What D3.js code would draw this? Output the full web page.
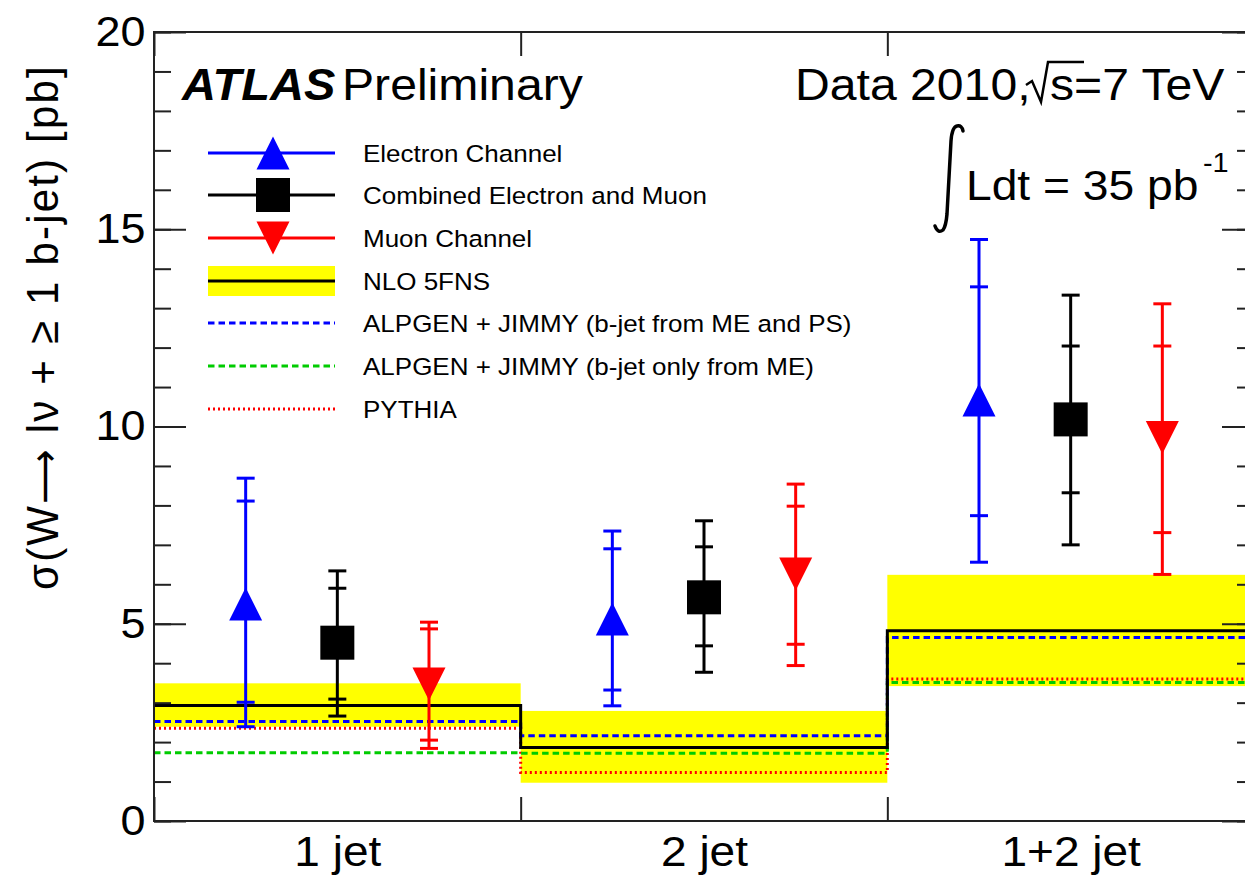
<!DOCTYPE html>
<html><head><meta charset="utf-8">
<script src="https://cdn.jsdelivr.net/npm/d3@7"></script>
<style>
body{margin:0;background:#fff;}
svg{display:block;font-family:"Liberation Sans",Arial,Helvetica,sans-serif;}
</style>
</head><body>
<svg id="c" width="1245" height="882"></svg>
<script>
// ---------------- data ----------------
const bins = ["1 jet", "2 jet", "1+2 jet"];
const yMajorTicks = [0, 5, 10, 15, 20];
const yMinorTicks = d3.range(0, 21, 1);
const binEdges = [0, 1, 2, 3];

// Electron channel
const eleVal    = [5.50, 5.12, 10.67];
const eleStatLo = [3.01, 3.32, 7.74];
const eleStatHi = [8.11, 6.90, 13.54];
const eleTotLo  = [2.39, 2.92, 6.56];
const eleTotHi  = [8.69, 7.35, 14.74];
// Combined electron and muon
const combVal    = [4.52, 5.67, 10.18];
const combStatLo = [3.09, 4.44, 8.32];
const combStatHi = [5.90, 6.95, 12.04];
const combTotLo  = [2.66, 3.77, 7.00];
const combTotHi  = [6.34, 7.61, 13.33];
// Muon channel
const muVal    = [3.47, 6.26, 9.72];
const muStatLo = [2.05, 4.48, 7.31];
const muStatHi = [4.87, 7.98, 12.04];
const muTotLo  = [1.84, 3.94, 6.25];
const muTotHi  = [5.04, 8.54, 13.11];
// Theory
const nloVal = [2.93, 1.86, 4.82];
const nloLo  = [2.39, 0.97, 3.42];
const nloHi  = [3.49, 2.79, 6.24];
const alpgenMEPS = [2.52, 2.16, 4.65];
const alpgenME   = [1.73, 1.72, 3.51];
const pythiaVal  = [2.35, 1.23, 3.60];

const legendLabels = ["Electron Channel", "Combined Electron and Muon", "Muon Channel", "NLO 5FNS",
  "ALPGEN + JIMMY (b-jet from ME and PS)", "ALPGEN + JIMMY (b-jet only from ME)", "PYTHIA"];

// ---------------- layout ----------------
const SX = 1.07; // horizontal stretch of text
const svg = d3.select("#c");
const x = d3.scaleLinear().domain([0, 3]).range([154, 1254]);
const y = d3.scaleLinear().domain([0, 20]).range([821, 32]);
const BLUE = "#0000ff", RED = "#ff0000", GREEN = "#00cc00", YELLOW = "#ffff00";

function txt(parent, px, py, s, size, opts = {}) {
  const g = parent.append("g").attr("transform", `translate(${px},${py}) scale(${opts.sx || SX},1)`);
  const t = g.append("text").attr("font-size", size).attr("fill", "#000")
    .attr("text-anchor", opts.anchor || "start");
  if (opts.weight) t.attr("font-weight", opts.weight);
  if (opts.style) t.attr("font-style", opts.style);
  t.text(s);
  return g;
}

// ---------------- NLO band ----------------
svg.append("g").selectAll("rect").data(bins).join("rect")
  .attr("x", (d, i) => x(i)).attr("width", (d, i) => x(i + 1) - x(i))
  .attr("y", (d, i) => y(nloHi[i])).attr("height", (d, i) => y(nloLo[i]) - y(nloHi[i]))
  .attr("fill", YELLOW);

// step histograms
function stepPts(vals) {
  const pts = [];
  vals.forEach((v, i) => { pts.push([i, v]); pts.push([i + 1, v]); });
  return pts;
}
const stepLine = d3.line().x(d => x(d[0])).y(d => y(d[1]));
function drawStep(vals, color, dash, w) {
  svg.append("path").attr("d", stepLine(stepPts(vals))).attr("fill", "none")
    .attr("stroke", color).attr("stroke-width", w).attr("stroke-dasharray", dash);
}
drawStep(pythiaVal, RED, "2,3", 3);
drawStep(alpgenME, GREEN, "6.5,4", 3);
drawStep(alpgenMEPS, BLUE, "6.5,4", 3);
drawStep(nloVal, "#000", null, 3);

// ---------------- axes ----------------
function styleAxis(g) {
  g.select(".domain").remove();
  g.selectAll("line").attr("stroke", "#222").attr("stroke-width", 2);
}
svg.append("g").attr("transform", `translate(${x(0)},0)`)
  .call(d3.axisLeft(y).tickValues(yMinorTicks).tickSizeInner(-17).tickSizeOuter(0).tickFormat(""))
  .call(styleAxis);
const yAx = svg.append("g").attr("transform", `translate(${x(0)},0)`)
  .call(d3.axisLeft(y).tickValues(yMajorTicks).tickSizeInner(-32).tickSizeOuter(0).tickPadding(8))
  .call(styleAxis);
yAx.selectAll("text").attr("font-size", 42).attr("fill", "#000")
  .attr("font-family", "Liberation Sans, Arial, sans-serif").attr("transform", `scale(${SX},1)`);
svg.append("g").attr("transform", `translate(${x(3)},0)`)
  .call(d3.axisRight(y).tickValues(yMinorTicks).tickSizeInner(-17).tickSizeOuter(0).tickFormat(""))
  .call(styleAxis);
svg.append("g").attr("transform", `translate(${x(3)},0)`)
  .call(d3.axisRight(y).tickValues(yMajorTicks).tickSizeInner(-32).tickSizeOuter(0).tickFormat(""))
  .call(styleAxis);
svg.append("g").attr("transform", `translate(0,${y(0)})`)
  .call(d3.axisBottom(x).tickValues(binEdges).tickSizeInner(-24).tickSizeOuter(0).tickFormat(""))
  .call(styleAxis);
svg.append("g").attr("transform", `translate(0,${y(20)})`)
  .call(d3.axisTop(x).tickValues(binEdges).tickSizeInner(-24).tickSizeOuter(0).tickFormat(""))
  .call(styleAxis);
const xLab = svg.append("g").attr("transform", `translate(0,${y(0)})`)
  .call(d3.axisBottom(x).tickValues([0.5, 1.5, 2.5]).tickSize(0).tickPadding(14)
    .tickFormat((d, i) => bins[i]));
xLab.select(".domain").remove();
xLab.selectAll("text").attr("font-size", 43).attr("fill", "#000")
  .attr("font-family", "Liberation Sans, Arial, sans-serif").attr("transform", `scale(${SX},1)`);

// frame
svg.append("rect").attr("x", x(0)).attr("y", y(20)).attr("width", x(3) - x(0)).attr("height", y(0) - y(20))
  .attr("fill", "none").attr("stroke", "#222").attr("stroke-width", 2);

// ---------------- data points ----------------
const OFF = 0.25, CAP = 9, MS = 33;
function drawSeries(vals, sLo, sHi, tLo, tHi, color, offset, marker) {
  const g = svg.append("g");
  vals.forEach((v, i) => {
    const cx = x(i + 0.5 + offset);
    g.append("line").attr("x1", cx).attr("x2", cx).attr("y1", y(tLo[i])).attr("y2", y(tHi[i]))
      .attr("stroke", color).attr("stroke-width", 3);
    [sLo[i], sHi[i], tLo[i], tHi[i]].forEach(e => {
      g.append("line").attr("x1", cx - CAP).attr("x2", cx + CAP).attr("y1", y(e)).attr("y2", y(e))
        .attr("stroke", color).attr("stroke-width", 3);
    });
    drawMarker(g, cx, y(v), marker, color);
  });
}
function drawMarker(g, cx, cy, marker, color) {
  const h = MS / 2;
  if (marker === "up") {
    g.append("path").attr("d", `M${cx - h},${cy + h}L${cx + h},${cy + h}L${cx},${cy - h}Z`).attr("fill", color);
  } else if (marker === "down") {
    g.append("path").attr("d", `M${cx - h},${cy - h}L${cx + h},${cy - h}L${cx},${cy + h}Z`).attr("fill", color);
  } else {
    g.append("rect").attr("x", cx - 17).attr("y", cy - 17).attr("width", 34).attr("height", 34).attr("fill", color);
  }
}
drawSeries(eleVal, eleStatLo, eleStatHi, eleTotLo, eleTotHi, BLUE, -OFF, "up");
drawSeries(combVal, combStatLo, combStatHi, combTotLo, combTotHi, "#000", 0, "sq");
drawSeries(muVal, muStatLo, muStatHi, muTotLo, muTotHi, RED, OFF, "down");

// ---------------- legend ----------------
const leg = svg.append("g");
const lx1 = 208, lx2 = 335, lmx = 273, ltx = 363;
const rowY = [153, 195, 238, 281, 323, 366, 409];
const legStyles = [
  {type: "pt", color: BLUE, marker: "up"},
  {type: "pt", color: "#000", marker: "sq"},
  {type: "pt", color: RED, marker: "down"},
  {type: "band"},
  {type: "line", color: BLUE, dash: "6.5,4"},
  {type: "line", color: GREEN, dash: "6.5,4"},
  {type: "line", color: RED, dash: "2,3"}
];
legendLabels.forEach((lab, i) => {
  const st = legStyles[i], ry = rowY[i];
  if (st.type === "band") {
    leg.append("rect").attr("x", lx1).attr("y", ry - 15).attr("width", lx2 - lx1).attr("height", 30).attr("fill", YELLOW);
    leg.append("line").attr("x1", lx1).attr("x2", lx2).attr("y1", ry).attr("y2", ry).attr("stroke", "#000").attr("stroke-width", 3);
  } else if (st.type === "line") {
    leg.append("line").attr("x1", lx1).attr("x2", lx2).attr("y1", ry).attr("y2", ry)
      .attr("stroke", st.color).attr("stroke-width", 3).attr("stroke-dasharray", st.dash);
  } else {
    leg.append("line").attr("x1", lx1).attr("x2", lx2).attr("y1", ry).attr("y2", ry).attr("stroke", st.color).attr("stroke-width", 3);
    drawMarker(leg, lmx, ry, st.marker, st.color);
  }
  txt(leg, ltx, ry + 9, lab, 24.3);
});

// ---------------- labels ----------------
txt(svg, 182, 100, "ATLAS", 44, {weight: "bold", style: "italic"});
txt(svg, 342, 100, "Preliminary", 45);
txt(svg, 795, 100, "Data 2010,", 45);
svg.append("path").attr("d", "M1026,85 L1032,81 L1041,102 L1048,62 L1084,62")
  .attr("fill", "none").attr("stroke", "#000").attr("stroke-width", 2.5).attr("stroke-linejoin", "miter");
txt(svg, 1050, 100, "s=7 TeV", 45);
// integral sign
svg.append("path").attr("d", "M935,226 Q938,234 943,230 Q946,226 947,214 L951,141 Q952,127 957,126 Q962,125 963,131")
  .attr("fill", "none").attr("stroke", "#000").attr("stroke-width", 3.5).attr("stroke-linecap", "round");
txt(svg, 966, 200, "Ldt = 35 pb", 42, {sx: 1.1});
txt(svg, 1203, 172, "-1", 27);

// y title
const yt = svg.append("text").attr("transform", "translate(58,327) rotate(-90) scale(1,1.05)")
  .attr("text-anchor", "middle").attr("font-size", 42).attr("letter-spacing", 2.2).attr("fill", "#000");
yt.append("tspan").text("σ(W");
yt.append("tspan").attr("font-family", "DejaVu Sans").attr("font-size", 38).text("⟶");
yt.append("tspan").text(" lν + ≥ 1 b-jet) [pb]");
</script>
</body></html>
